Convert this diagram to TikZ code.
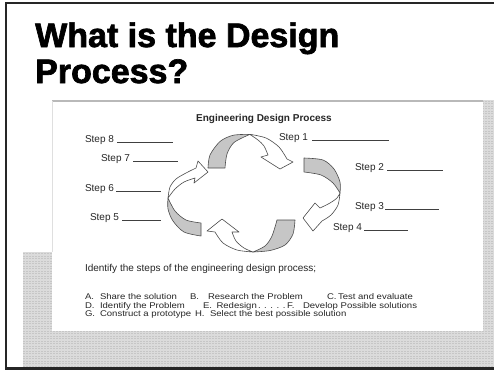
\documentclass[tikz,border=0pt]{standalone}
\usepackage{fontspec}
\setmainfont{Liberation Sans}
\newfontfamily\titlefont[FakeBold=2]{Liberation Sans Bold}
\newfontfamily\headfont{Liberation Sans Bold}

\begin{document}
\begin{tikzpicture}[x=1pt,y=-1pt,
  txt/.style={anchor=base west, inner sep=0pt, outer sep=0pt,
              font=\fontsize{10}{12}\selectfont, text=black!85},
  choice/.style={txt, font=\fontsize{8.3}{10}\selectfont, xscale=1.15},
  blank/.style={draw=black!75, line width=0.7pt},
  ribbon/.style={fill=gray!45, draw=black!70, line width=0.6pt, line join=round},
  shaft/.style={fill=white, draw=black!70, line width=0.6pt, line join=round},
  band/.style={fill=gray!28},
]
\useasboundingbox (0,0) rectangle (494,373);
\fill[white] (0,0) rectangle (494,373);

% shaded bands behind the worksheet
\fill[band] (23,252) rectangle (52,367);
\fill[band] (52,331) rectangle (494,367);
\fill[band] (483,100) rectangle (494,331);
\begin{scope}
  \clip (23,252) rectangle (52,367) (52,331) rectangle (494,367) (483,100) rectangle (494,331);
  \foreach \y in {101,103.5,...,367}
    \draw[gray!45, line width=0.4pt, dash pattern=on 2pt off 1pt] (23,\y) -- (494,\y);
\end{scope}

% worksheet page
\fill[white] (52,101) rectangle (483,331);
\draw[gray!55, line width=1.5pt] (52,101) -- (483,101);
\draw[gray!25, line width=0.5pt] (52,101) -- (52,252);

% slide frame
\draw[black!85, line width=1.3pt] (494,3) -- (6,3) -- (6,368);
\draw[black!85, line width=2.5pt] (5,368.5) -- (494,368.5);

% title
\node[anchor=base west, inner sep=0pt, font=\titlefont\fontsize{34}{36}\selectfont] (title1) at (35,47) {What is the Design};
\node[anchor=base west, inner sep=0pt, font=\titlefont\fontsize{34}{36}\selectfont] (title2) at (35,83) {Process?};

% worksheet heading
\node[anchor=base, inner sep=0pt, font=\headfont\fontsize{10}{12}\selectfont, text=black!85] (head) at (264,121.3) {Engineering Design Process};

% cycle: top arrow
\path[ribbon] plot[smooth] coordinates {(208,168) (210,155) (220,141.5) (233,135.3) (250,134.3)}
  -- plot[smooth] coordinates {(250,134.3) (234,142.5) (227,154) (225,168)} -- cycle;
\path[shaft] plot[smooth] coordinates {(250,134.3) (266,138) (279,147) (287,159)}
  -- (293,162) -- (280,169) -- (261,157) -- (268,155)
  -- plot[smooth] coordinates {(268,155) (264,146) (258,140) (250,134.5)} -- cycle;

% cycle: right arrow
\path[ribbon] plot[smooth] coordinates {(304,158) (323,160) (334,169) (340,182) (340,193)}
  -- plot[smooth] coordinates {(340,193) (333,183) (321,175) (304,172)} -- cycle;
\path[shaft] plot[smooth] coordinates {(340,193) (338,205) (331,215) (322,221)}
  -- (313,231) -- (303,218) -- (315,203) -- (320,208)
  -- plot[smooth] coordinates {(320,208) (330,203) (337,198) (340,193)} -- cycle;

% cycle: bottom arrow
\path[ribbon] plot[smooth] coordinates {(295,220) (293,234) (285,245) (270,250.5) (253,252)}
  -- plot[smooth] coordinates {(253,252) (265,246) (272,236) (277,220)} -- cycle;
\path[shaft] plot[smooth] coordinates {(253,252) (237,250) (223,243) (215,232)}
  -- (207,231) -- (222,219) -- (239,232) -- (232,232)
  -- plot[smooth] coordinates {(232,232) (236,241) (244,248) (253,252)} -- cycle;

% cycle: left arrow
\path[ribbon] plot[smooth] coordinates {(201,236) (184,232) (173,221) (168,209) (168,198)}
  -- plot[smooth] coordinates {(168,198) (175,211) (186,220) (201,223)} -- cycle;
\path[shaft] plot[smooth] coordinates {(168,198) (170,187) (176,179) (186,173) (196,168)}
  -- (198,161) -- (208,172) -- (194,183) -- (195,178)
  -- plot[smooth] coordinates {(195,178) (184,182) (175,189) (168,198)} -- cycle;

% step labels with answer blanks
\node[txt] (s8) at (85,142) {Step 8};   \draw[blank] (117,142) -- (173,142);
\node[txt] (s7) at (101,161.5) {Step 7}; \draw[blank] (133,161.5) -- (178,161.5);
\node[txt] (s6) at (85,191) {Step 6};   \draw[blank] (116,191) -- (161,191);
\node[txt] (s5) at (90,220.5) {Step 5}; \draw[blank] (122,220.5) -- (161,220.5);
\node[txt] (s1) at (279,140) {Step 1};  \draw[blank] (312,140) -- (389,140);
\node[txt] (s2) at (355,170) {Step 2};  \draw[blank] (387,170) -- (443,170);
\node[txt] (s3) at (355,209.3) {Step 3};\draw[blank] (385,209.3) -- (439,209.3);
\node[txt] (s4) at (333,230.5) {Step 4};\draw[blank] (364,230.5) -- (408,230.5);

% question and choices
\node[txt] (q) at (85,271.5) {Identify the steps of the engineering design process;};

\node[choice] (la) at (85,299.5) {A.};  \node[choice] (ta) at (100,299.5) {Share the solution};
\node[choice] (lb) at (190,299.5) {B.}; \node[choice] (tb) at (208,299.5) {Research the Problem};
\node[choice] (lc) at (327,299.5) {C.}; \node[choice] (tc) at (338,299.5) {Test and evaluate};

\node[choice] (ld) at (85,308) {D.};  \node[choice] (td) at (100,308) {Identify the Problem};
\node[choice] (le) at (203,308) {E.}; \node[choice] (te) at (216.5,308) {Redesign};
\node[choice] (dots) at (258,308) {. . . . .};
\node[choice] (lf) at (287,308) {F.}; \node[choice] (tf) at (303,308) {Develop Possible solutions};

\node[choice] (lg) at (85,316.5) {G.};  \node[choice] (tg) at (100,316.5) {Construct a prototype};
\node[choice] (lh) at (195,316.5) {H.}; \node[choice] (th) at (210,316.5) {Select the best possible solution};
\end{tikzpicture}
\end{document}
